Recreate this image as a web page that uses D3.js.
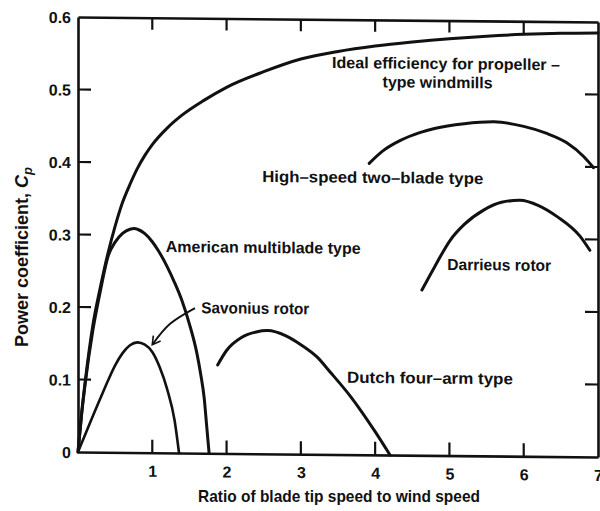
<!DOCTYPE html>
<html>
<head>
<meta charset="utf-8">
<script src="https://cdn.jsdelivr.net/npm/d3@7"></script>
<style>
html,body{margin:0;padding:0;background:#fff;}
svg{display:block;}
text{font-family:"Liberation Sans",Arial,sans-serif;fill:#111;}
</style>
</head>
<body>
<svg id="chart" width="600" height="511"></svg>
<script>
// ---- data (tip-speed ratio, power coefficient) ----
const xTickValues = [1, 2, 3, 4, 5, 6, 7];
const xTickLabels = ["1", "2", "3", "4", "5", "6", "7"];
const yTickValues = [0, 0.1, 0.2, 0.3, 0.4, 0.5, 0.6];
const yTickLabels = ["0", "0.1", "0.2", "0.3", "0.4", "0.5", "0.6"];

const idealX = [0, 0.05, 0.1, 0.2, 0.3, 0.4, 0.5, 0.6, 0.7, 0.8, 0.9, 1.0, 1.2, 1.4, 1.7, 2.0, 2.5, 3.0, 3.5, 4.0, 4.5, 5.0, 5.5, 6.0, 6.5, 7.0];
const idealY = [0, 0.055, 0.1, 0.175, 0.227, 0.273, 0.312, 0.345, 0.37, 0.392, 0.41, 0.425, 0.448, 0.466, 0.487, 0.505, 0.527, 0.545, 0.556, 0.564, 0.57, 0.575, 0.579, 0.582, 0.584, 0.585];

const multibladeX = [0, 0.05, 0.1, 0.2, 0.3, 0.41, 0.5, 0.6, 0.7, 0.76, 0.8, 0.9, 1.0, 1.08, 1.2, 1.3, 1.4, 1.5, 1.6, 1.65, 1.7, 1.73, 1.765];
const multibladeY = [0, 0.053, 0.097, 0.168, 0.222, 0.272, 0.29, 0.302, 0.308, 0.309, 0.308, 0.302, 0.291, 0.279, 0.257, 0.235, 0.21, 0.178, 0.138, 0.11, 0.075, 0.04, 0];

const savoniusX = [0, 0.1, 0.2, 0.3, 0.4, 0.5, 0.6, 0.7, 0.8, 0.9, 1.0, 1.1, 1.2, 1.3, 1.36];
const savoniusY = [0, 0.025, 0.05, 0.074, 0.098, 0.12, 0.137, 0.148, 0.152, 0.149, 0.139, 0.118, 0.088, 0.045, 0];

const dutchX = [1.88, 2.0, 2.2, 2.4, 2.55, 2.8, 3.0, 3.22, 3.4, 3.67, 3.8, 4.0, 4.2];
const dutchY = [0.122, 0.142, 0.16, 0.168, 0.17, 0.163, 0.151, 0.134, 0.113, 0.08, 0.062, 0.032, 0];

const twoBladeX = [3.92, 4.1, 4.34, 4.6, 4.8, 5.2, 5.6, 6.0, 6.3, 6.58, 6.81, 6.94];
const twoBladeY = [0.402, 0.419, 0.434, 0.445, 0.451, 0.458, 0.461, 0.455, 0.446, 0.433, 0.414, 0.399];

const darrieusX = [4.63, 4.8, 5.01, 5.2, 5.46, 5.7, 5.95, 6.2, 6.45, 6.76, 6.89];
const darrieusY = [0.228, 0.26, 0.297, 0.319, 0.339, 0.35, 0.353, 0.346, 0.331, 0.304, 0.285];

const curveNames = ["ideal", "multiblade", "savonius", "dutch", "twoBlade", "darrieus"];

const labelTexts = ["Ideal efficiency for propeller –", "type windmills", "High–speed two–blade type",
  "American multiblade type", "Savonius rotor", "Dutch four–arm type", "Darrieus rotor"];
const labelX = [3.42, 4.10, 2.48, 1.18, 1.66, 3.62, 4.97];
const labelY = [0.533, 0.507, 0.375, 0.277, 0.193, 0.099, 0.256];

const arrowX = [1.575, 1.24, 1.0];
const arrowY = [0.2, 0.178, 0.149];

const xTitle = "Ratio of blade tip speed to wind speed";

// ---- layout / styles ----
const svg = d3.select("#chart");
const x = d3.scaleLinear().domain([0, 7]).range([78, 598]);
const y = d3.scaleLinear().domain([0, 0.6]).range([452, 17]);

const labelWidths = [228, 110, 221, 195, 108, 166, 104];
const curveWidths = {ideal: 3, multiblade: 3, savonius: 2.6, dutch: 3, twoBlade: 3, darrieus: 3};
const TICK = 13;

// the scanned figure is slightly sheared
const g = svg.append("g").attr("transform", "translate(0,-0.74) skewY(0.55)");

// axes: domain lines + labels from d3 axes
const axLeft = g.append("g").attr("transform", `translate(${x(0)},0)`)
  .call(d3.axisLeft(y).tickValues(yTickValues).tickSize(0).tickPadding(7)
    .tickFormat((d, i) => yTickLabels[i]));
const axBottom = g.append("g").attr("transform", `translate(0,${y(0)})`)
  .call(d3.axisBottom(x).tickValues(xTickValues).tickSize(0).tickPadding(8)
    .tickFormat((d, i) => xTickLabels[i]));
const axTop = g.append("g").attr("transform", `translate(0,${y(0.6)})`)
  .call(d3.axisTop(x).tickValues([]).tickSize(0));
const axRight = g.append("g").attr("transform", `translate(${x(7)},0)`)
  .call(d3.axisRight(y).tickValues([]).tickSize(0));

[axLeft, axBottom, axTop, axRight].forEach(a => {
  a.selectAll("path.domain").attr("stroke", "#111").attr("stroke-width", 2.6);
  a.selectAll(".tick text").attr("font-size", 16).attr("font-weight", "bold")
    .attr("font-family", "Liberation Sans, Arial, sans-serif").attr("fill", "#111");
});
axBottom.selectAll(".tick text").attr("dy", 16);
axLeft.selectAll(".tick text").attr("dy", "0.36em");

// inward tick marks on all four sides
const tickG = g.append("g").attr("stroke", "#111").attr("stroke-width", 2.2);
tickG.selectAll("line.tl").data(yTickValues.slice(1, 6)).join("line").attr("class", "tl")
  .attr("x1", x(0)).attr("x2", x(0) + TICK).attr("y1", d => y(d)).attr("y2", d => y(d));
tickG.selectAll("line.tr").data(yTickValues.slice(1, 6)).join("line").attr("class", "tr")
  .attr("x1", x(7)).attr("x2", x(7) - TICK).attr("y1", d => y(d)).attr("y2", d => y(d));
tickG.selectAll("line.tb").data(xTickValues.slice(0, 6)).join("line").attr("class", "tb")
  .attr("x1", d => x(d)).attr("x2", d => x(d)).attr("y1", y(0)).attr("y2", y(0) - TICK);
tickG.selectAll("line.tt").data(xTickValues.slice(0, 6)).join("line").attr("class", "tt")
  .attr("x1", d => x(d)).attr("x2", d => x(d)).attr("y1", y(0.6)).attr("y2", y(0.6) + TICK - 1);

// curves
const series = {
  ideal: d3.zip(idealX, idealY),
  multiblade: d3.zip(multibladeX, multibladeY),
  savonius: d3.zip(savoniusX, savoniusY),
  dutch: d3.zip(dutchX, dutchY),
  twoBlade: d3.zip(twoBladeX, twoBladeY),
  darrieus: d3.zip(darrieusX, darrieusY)
};
const line = d3.line().x(d => x(d[0])).y(d => y(d[1])).curve(d3.curveMonotoneX);
curveNames.forEach(n => {
  g.append("path").datum(series[n]).attr("d", line)
    .attr("fill", "none").attr("stroke", "#111").attr("stroke-width", curveWidths[n])
    .attr("stroke-linecap", "round").attr("stroke-linejoin", "round");
});

// arrow for Savonius rotor
svg.append("defs").append("marker").attr("id", "arr").attr("viewBox", "-10 -6 12 12")
  .attr("refX", 0).attr("refY", 0).attr("markerWidth", 12).attr("markerHeight", 12)
  .attr("markerUnits", "userSpaceOnUse").attr("orient", "auto")
  .append("path").attr("d", "M-8,-4.5 L0,0 L-8,4.5").attr("fill", "none")
  .attr("stroke", "#111").attr("stroke-width", 1.6);
g.append("path").datum(d3.zip(arrowX, arrowY))
  .attr("d", d3.line().x(d => x(d[0])).y(d => y(d[1])).curve(d3.curveNatural))
  .attr("fill", "none").attr("stroke", "#111").attr("stroke-width", 1.9)
  .attr("marker-end", "url(#arr)");

// curve labels
labelTexts.forEach((t, i) => {
  g.append("text").attr("x", x(labelX[i])).attr("y", y(labelY[i]))
    .attr("font-size", 16).attr("font-weight", "bold")
    .attr("textLength", labelWidths[i]).attr("lengthAdjust", "spacingAndGlyphs")
    .text(t);
});

// axis titles
svg.append("text").attr("x", 339).attr("y", 502).attr("text-anchor", "middle")
  .attr("font-size", 17).attr("font-weight", "bold")
  .attr("textLength", 282).attr("lengthAdjust", "spacingAndGlyphs").text(xTitle);

const yt = svg.append("text").attr("transform", "translate(28,257) rotate(-90)")
  .attr("text-anchor", "middle").attr("font-size", 18).attr("font-weight", "bold");
yt.append("tspan").text("Power coefficient, ");
yt.append("tspan").attr("font-style", "italic").text("C");
yt.append("tspan").attr("font-style", "italic").attr("font-size", 13).attr("dy", 4).text("p");
</script>
</body>
</html>
